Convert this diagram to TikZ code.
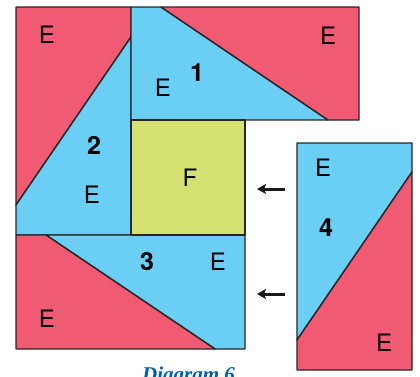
\documentclass[tikz,border=0pt]{standalone}
\usepackage{fontspec}
\setmainfont{TeX Gyre Heros}
\newfontfamily\capfont{Liberation Serif}
\usetikzlibrary{arrows.meta}
\definecolor{redE}{RGB}{240,90,115}
\definecolor{blueE}{RGB}{106,206,245}
\definecolor{greenF}{RGB}{213,225,115}
\definecolor{capblue}{RGB}{0,92,170}

\begin{document}
\begin{tikzpicture}[x=1pt,y=-1pt,
    piece/.style={draw=black!85,line width=1.4pt,line join=round},
    lab/.style={inner sep=0pt,font=\fontsize{24}{24}\selectfont},
    num/.style={lab,font=\fontsize{25}{25}\selectfont\bfseries},
    push/.style={draw=black!90,line width=3pt,-{Stealth[length=9pt,width=10pt,inset=2pt]}}]
  \useasboundingbox (0,0) rectangle (420,376);
    \filldraw[piece,fill=redE] (16,7) -- (131,7) -- (131,37) -- (16,205) -- cycle;
    \filldraw[piece,fill=blueE] (131,37) -- (131,235) -- (16,235) -- (16,205) -- cycle;
    \filldraw[piece,fill=blueE] (131,7) -- (161,7) -- (328,120) -- (131,120) -- cycle;
    \filldraw[piece,fill=redE] (161,7) -- (359,7) -- (359,120) -- (328,120) -- cycle;
    \filldraw[piece,fill=blueE] (46,235) -- (245,235) -- (245,349) -- (215,349) -- cycle;
    \filldraw[piece,fill=redE] (16,235) -- (46,235) -- (215,349) -- (16,349) -- cycle;
    \filldraw[piece,fill=greenF] (131,120) rectangle (245,235);
    \filldraw[piece,fill=blueE] (297,143) -- (412,143) -- (412,172) -- (297,340) -- cycle;
    \filldraw[piece,fill=redE] (412,172) -- (412,370) -- (297,370) -- (297,340) -- cycle;
    \node[lab] (e2a) at (47,35) {E};
    \node[lab] (e1b) at (328,36) {E};
    \node[lab] (e1a) at (163,88) {E};
    \node[num] (p1) at (197,73) {1};
    \node[num] (p2) at (94,145) {2};
    \node[lab] (e2b) at (92,195) {E};
    \node[lab] (f) at (190,178) {F};
    \node[num] (p3) at (147,262) {3};
    \node[lab] (e3a) at (218,262) {E};
    \node[lab] (e3b) at (47,319) {E};
    \node[lab] (e4a) at (323,168) {E};
    \node[num] (p4) at (326,228) {4};
    \node[lab] (e4b) at (384,343) {E};
    \coordinate (a1s) at (285,189);
    \coordinate (a1e) at (257,189);
    \coordinate (a2s) at (285,294);
    \coordinate (a2e) at (257,294);
    \draw[push] (a1s) -- (a1e);
    \draw[push] (a2s) -- (a2e);
    \node[anchor=base west,inner sep=0pt,text=capblue,
      font=\capfont\fontsize{21}{21}\selectfont\bfseries\itshape] (cap) at (142,381) {Diagram 6};
  \end{tikzpicture}
\end{document}
